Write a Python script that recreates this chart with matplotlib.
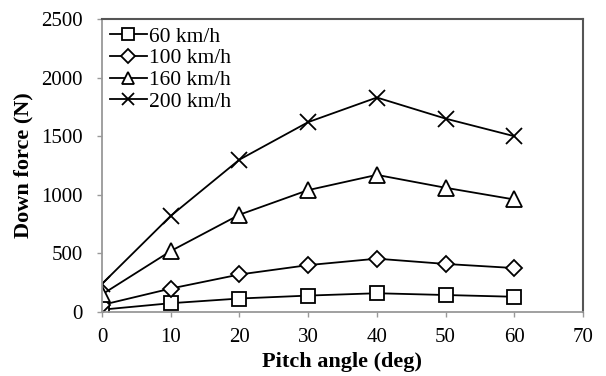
import numpy as np
import matplotlib
matplotlib.use('Agg')
import matplotlib.pyplot as plt

plt.rcParams['font.family'] = ['Liberation Serif', 'DejaVu Serif']

# pitch angle and down force per speed
pitch = [0, 10, 20, 30, 40, 50, 60]
f60 = [20, 75, 115, 140, 160, 145, 130]
f100 = [60, 200, 320, 400, 455, 410, 375]
f160 = [150, 520, 830, 1040, 1170, 1060, 960]
f200 = [240, 820, 1300, 1620, 1830, 1650, 1500]
labels = ['60 km/h', '100 km/h', '160 km/h', '200 km/h']

fig = plt.figure(figsize=(6.06, 3.76), dpi=100)
ax = fig.add_axes([102/606, 1 - 312/376, 481/606, 293/376])

ax.plot(pitch, f60, color='black', lw=1.3, marker='s', ms=10, mfc='white', mec='black', mew=1.3, label=labels[0])
ax.plot(pitch, f100, color='black', lw=1.3, marker='D', ms=8, mfc='white', mec='black', mew=1.3, label=labels[1])
ax.plot(pitch, f160, color='black', lw=1.3, marker='^', ms=11, mfc='white', mec='black', mew=1.3, label=labels[2])
ax.plot(pitch, f200, color='black', lw=1.3, marker='x', ms=11, mec='black', mew=1.3, label=labels[3])

ax.set_xlim(0, 70)
ax.set_ylim(0, 2500)
ax.set_xticks(np.arange(0, 71, 10))
ax.set_yticks(np.arange(0, 2501, 500))
ax.tick_params(direction='out', length=3.5, width=1, color='#999999', labelsize=15)
ax.tick_params(axis='y', pad=10.5)
ax.tick_params(axis='x', pad=8)

for s in ['left', 'bottom']:
    ax.spines[s].set_color('#999999')
    ax.spines[s].set_linewidth(1.3)
for s in ['top', 'right']:
    ax.spines[s].set_color('#555555')
    ax.spines[s].set_linewidth(1.5)

ax.set_xlabel('Pitch angle (deg)', fontsize=16, fontweight='bold')
ax.set_ylabel('Down force (N)', fontsize=16, fontweight='bold')
ax.xaxis.set_label_coords(0.5, -0.135)
ax.yaxis.set_label_coords(-0.143, 0.5)

ax.legend(loc='upper left', frameon=False, fontsize=15.5, handlelength=1.75,
          handletextpad=0.1, labelspacing=0.08, borderaxespad=0.2, borderpad=0.15,
          markerscale=0.85)

fig.savefig('out.png', dpi=100)
